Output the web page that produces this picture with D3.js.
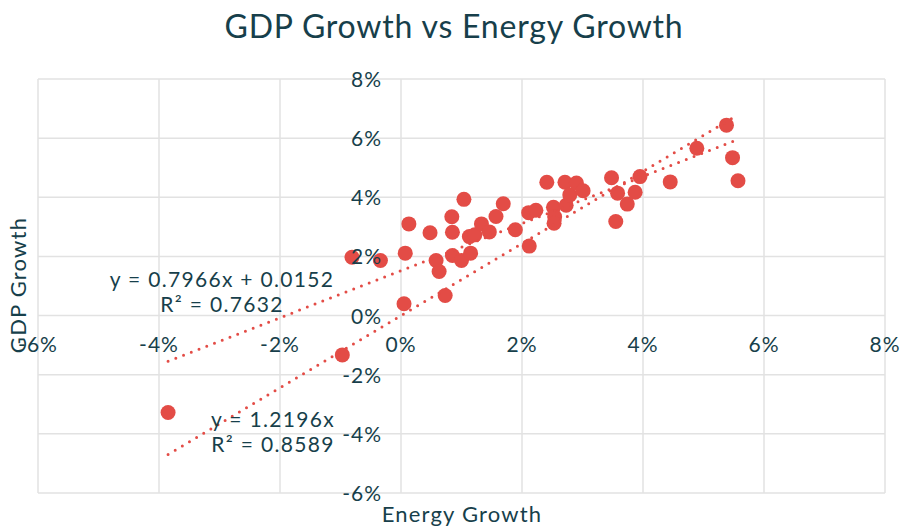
<!DOCTYPE html>
<html>
<head>
<meta charset="utf-8">
<script src="https://cdn.jsdelivr.net/npm/d3@7"></script>
<style>
  body { margin:0; background:#fff; }
  #chart { width:905px; height:527px; }
  text { font-family: Lato, "Open Sans", sans-serif; fill:#173f4b; }
</style>
</head>
<body>
<div id="chart"></div>
<script>
// energy growth (x) and gdp growth (y), one entry per year
var energyGrowth = [-0.0385, -0.0097, -0.0081, -0.0034, 0.0005, 0.0007, 0.0013, 0.0048, 0.0058, 0.0063,
                    0.0073, 0.0084, 0.0085, 0.0085, 0.0104, 0.0100, 0.0115, 0.0113, 0.0122, 0.0133,
                    0.0146, 0.0157, 0.0169, 0.0189, 0.0212, 0.0211, 0.0223, 0.0241, 0.0252, 0.0254,
                    0.0253, 0.0271, 0.0273, 0.0279, 0.0290, 0.0301, 0.0348, 0.0358, 0.0374, 0.0355,
                    0.0387, 0.0395, 0.0445, 0.0489, 0.0538, 0.0548, 0.0557];
var gdpGrowth =    [-0.0328, -0.0133, 0.0197, 0.0186, 0.0040, 0.0211, 0.0310, 0.0280, 0.0186, 0.0149,
                    0.0068, 0.0334, 0.0282, 0.0203, 0.0393, 0.0186, 0.0211, 0.0267, 0.0273, 0.0310,
                    0.0283, 0.0335, 0.0378, 0.0290, 0.0235, 0.0348, 0.0356, 0.0451, 0.0366, 0.0334,
                    0.0312, 0.0451, 0.0373, 0.0408, 0.0448, 0.0422, 0.0466, 0.0414, 0.0377, 0.0318,
                    0.0417, 0.0470, 0.0452, 0.0566, 0.0644, 0.0534, 0.0456];

var xTicks = [-0.06, -0.04, -0.02, 0, 0.02, 0.04, 0.06, 0.08];
var yTicks = [-0.06, -0.04, -0.02, 0, 0.02, 0.04, 0.06, 0.08];

// trendlines as shown in the chart labels
var trendlines = [
  { slope: 0.7966, intercept: 0.0152, label: ["y = 0.7966x + 0.0152", "R\u00b2 = 0.7632"], lx: 222, ly: 279 },
  { slope: 1.2196, intercept: 0,      label: ["y = 1.2196x", "R\u00b2 = 0.8589"],          lx: 273, ly: 419 }
];

var width = 905, height = 527;
var plot = { left: 38, right: 885, top: 79, bottom: 493 };
var dotColor = "#e34c46";

var svg = d3.select("#chart").append("svg")
    .attr("width", width)
    .attr("height", height);

var x = d3.scaleLinear().domain([-0.06, 0.08]).range([plot.left, plot.right]);
var y = d3.scaleLinear().domain([-0.06, 0.08]).range([plot.bottom, plot.top]);
// plain hyphen for negatives, like the original
var fmt = function(d) { return d3.format(".0%")(d).replace("\u2212", "-"); };

// grid
svg.append("g").selectAll("line").data(xTicks).enter().append("line")
    .attr("x1", function(d) { return x(d); }).attr("x2", function(d) { return x(d); })
    .attr("y1", plot.top).attr("y2", plot.bottom)
    .attr("stroke", "#e2e2e2").attr("stroke-width", 1.5);
svg.append("g").selectAll("line").data(yTicks).enter().append("line")
    .attr("y1", function(d) { return y(d); }).attr("y2", function(d) { return y(d); })
    .attr("x1", plot.left).attr("x2", plot.right)
    .attr("stroke", "#e2e2e2").attr("stroke-width", 1.5);

// points
var points = energyGrowth.map(function(e, i) { return { x: e, y: gdpGrowth[i] }; });
svg.append("g").selectAll("circle").data(points).enter().append("circle")
    .attr("cx", function(d) { return x(d.x); })
    .attr("cy", function(d) { return y(d.y); })
    .attr("r", 7.5)
    .attr("fill", dotColor);

// trendlines
var xExt = d3.extent(energyGrowth);
trendlines.forEach(function(t) {
  svg.append("line")
      .attr("x1", x(xExt[0])).attr("y1", y(t.slope * xExt[0] + t.intercept))
      .attr("x2", x(xExt[1])).attr("y2", y(t.slope * xExt[1] + t.intercept))
      .attr("stroke", dotColor)
      .attr("stroke-width", 3)
      .attr("stroke-linecap", "round")
      .attr("stroke-dasharray", "0 8.3");
});

// tick labels (axes cross at zero)
svg.append("g").selectAll("text").data(xTicks).enter().append("text")
    .attr("x", function(d) { return x(d); })
    .attr("y", y(0) + 36)
    .attr("text-anchor", "middle")
    .style("font-size", "21px").style("letter-spacing", "1px")
    .text(fmt);
svg.append("g").selectAll("text").data(yTicks).enter().append("text")
    .attr("x", x(0) - 19)
    .attr("y", function(d) { return y(d) + 8; })
    .attr("text-anchor", "end")
    .style("font-size", "21px").style("letter-spacing", "1px")
    .text(fmt);

// trendline labels
trendlines.forEach(function(t) {
  t.label.forEach(function(s, i) {
    svg.append("text")
        .attr("x", t.lx).attr("y", t.ly + 8 + i * 25)
        .attr("text-anchor", "middle")
        .style("font-size", "21px").style("letter-spacing", "1.3px")
        .text(s);
  });
});

// titles
svg.append("text")
    .attr("x", 454).attr("y", 38)
    .attr("text-anchor", "middle")
    .style("font-size", "32px").style("letter-spacing", "0.8px")
    .text("GDP Growth vs Energy Growth");
svg.append("text")
    .attr("x", 462).attr("y", 522)
    .attr("text-anchor", "middle")
    .style("font-size", "22px").style("letter-spacing", "1.2px")
    .text("Energy Growth");
svg.append("text")
    .attr("transform", "translate(26,285) rotate(-90)")
    .attr("text-anchor", "middle")
    .style("font-size", "22px").style("letter-spacing", "1.2px")
    .text("GDP Growth");
</script>
</body>
</html>
